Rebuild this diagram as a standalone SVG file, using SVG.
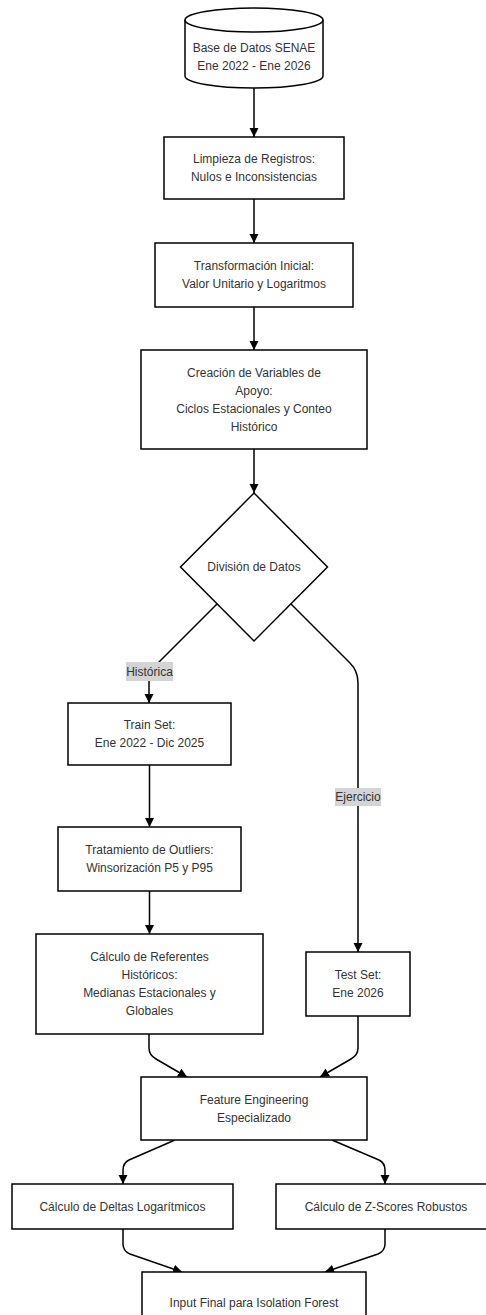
<svg xmlns="http://www.w3.org/2000/svg" width="486" height="1315" viewBox="0 0 486 1315">
<style>
.n{fill:#fff;stroke:#000;stroke-width:1.5}
.t{font-family:"Liberation Sans",Arial,sans-serif;font-size:12px;fill:#333;text-anchor:middle;dominant-baseline:central}
.e{fill:none;stroke:#000;stroke-width:1.5}
.lb{fill:#d4d4d4}
</style>
<defs>
<marker id="ah" markerUnits="userSpaceOnUse" markerWidth="10" markerHeight="10" refX="9" refY="4.5" orient="auto">
<path d="M0,0 L9,4.5 L0,9 z" fill="#000"/>
</marker>
</defs>
<rect width="486" height="1315" fill="#fff"/>
<g id="edges">
<path class="e" d="M254,88 L254,137" marker-end="url(#ah)"/>
<path class="e" d="M254,199 L254,243" marker-end="url(#ah)"/>
<path class="e" d="M254,307 L254,350" marker-end="url(#ah)"/>
<path class="e" d="M254,449 L254,493" marker-end="url(#ah)"/>
<path class="e" d="M217,604 L157,664 Q149,672 149,682 L149,703" marker-end="url(#ah)"/>
<path class="e" d="M291,604 L350,663 Q358,671 358,683 L358,952" marker-end="url(#ah)"/>
<path class="e" d="M149.5,765 L149.5,827" marker-end="url(#ah)"/>
<path class="e" d="M149.5,891 L149.5,934" marker-end="url(#ah)"/>
<path class="e" d="M149,1034 L149,1048 Q149,1055 156,1059 L187,1077" marker-end="url(#ah)"/>
<path class="e" d="M358,1016 L358,1048 Q358,1055 351,1059 L320,1077" marker-end="url(#ah)"/>
<path class="e" d="M175,1140 L129,1160 Q123,1163 123,1170 L123,1184" marker-end="url(#ah)"/>
<path class="e" d="M332,1140 L379,1160 Q385,1163 385,1170 L385,1184" marker-end="url(#ah)"/>
<path class="e" d="M123,1229 L123,1244 Q123,1251 130,1254 L182,1272" marker-end="url(#ah)"/>
<path class="e" d="M385,1229 L385,1244 Q385,1251 378,1254 L325,1272" marker-end="url(#ah)"/>
<g id="label-historica">
<rect class="lb" x="126" y="662" width="47" height="19"/>
<text class="t" x="149.5" y="672">Histórica</text>
</g>
<g id="label-ejercicio">
<rect class="lb" x="335" y="788" width="46" height="18"/>
<text class="t" x="358" y="797">Ejercicio</text>
</g>
</g>
<g id="db">
<path class="n" d="M185,20 A69,12 0 0 1 323,20 L323,76 A69,12 0 0 1 185,76 Z"/>
<path class="e" d="M185,20 A69,12 0 0 0 323,20"/>
<text class="t" x="254" y="47.5">Base de Datos SENAE</text>
<text class="t" x="254" y="65.5">Ene 2022 - Ene 2026</text>
</g>
<g id="limpieza">
<rect class="n" x="164" y="137" width="180" height="62"/>
<text class="t" x="254" y="159">Limpieza de Registros:</text>
<text class="t" x="254" y="177">Nulos e Inconsistencias</text>
</g>
<g id="transformacion">
<rect class="n" x="155" y="243" width="198" height="64"/>
<text class="t" x="254" y="266">Transformación Inicial:</text>
<text class="t" x="254" y="284">Valor Unitario y Logaritmos</text>
</g>
<g id="creacion">
<rect class="n" x="141" y="350" width="226" height="99"/>
<text class="t" x="254" y="373">Creación de Variables de</text>
<text class="t" x="254" y="391">Apoyo:</text>
<text class="t" x="254" y="409">Ciclos Estacionales y Conteo</text>
<text class="t" x="254" y="427">Histórico</text>
</g>
<g id="division">
<polygon class="n" points="254,493 327.5,567 254,641 180.5,567"/>
<text class="t" x="254" y="567">División de Datos</text>
</g>
<g id="train">
<rect class="n" x="68" y="703" width="163" height="62"/>
<text class="t" x="149.5" y="725">Train Set:</text>
<text class="t" x="149.5" y="743">Ene 2022 - Dic 2025</text>
</g>
<g id="outliers">
<rect class="n" x="58" y="827" width="183" height="64"/>
<text class="t" x="149.5" y="850">Tratamiento de Outliers:</text>
<text class="t" x="149.5" y="868">Winsorización P5 y P95</text>
</g>
<g id="referentes">
<rect class="n" x="36" y="934" width="227" height="100"/>
<text class="t" x="149.5" y="957">Cálculo de Referentes</text>
<text class="t" x="149.5" y="975">Históricos:</text>
<text class="t" x="149.5" y="993">Medianas Estacionales y</text>
<text class="t" x="149.5" y="1011">Globales</text>
</g>
<g id="test">
<rect class="n" x="306" y="952" width="104" height="64"/>
<text class="t" x="358" y="975">Test Set:</text>
<text class="t" x="358" y="993">Ene 2026</text>
</g>
<g id="feature">
<rect class="n" x="141" y="1077" width="226" height="63"/>
<text class="t" x="254" y="1099.5">Feature Engineering</text>
<text class="t" x="254" y="1117.5">Especializado</text>
</g>
<g id="deltas">
<rect class="n" x="12" y="1184" width="221" height="45"/>
<text class="t" x="122.5" y="1206.5">Cálculo de Deltas Logarítmicos</text>
</g>
<g id="zscores">
<rect class="n" x="276" y="1184" width="220" height="45"/>
<text class="t" x="386" y="1206.5">Cálculo de Z-Scores Robustos</text>
</g>
<g id="input">
<rect class="n" x="142" y="1272" width="224" height="62"/>
<text class="t" x="254" y="1303">Input Final para Isolation Forest</text>
</g>
</svg>
